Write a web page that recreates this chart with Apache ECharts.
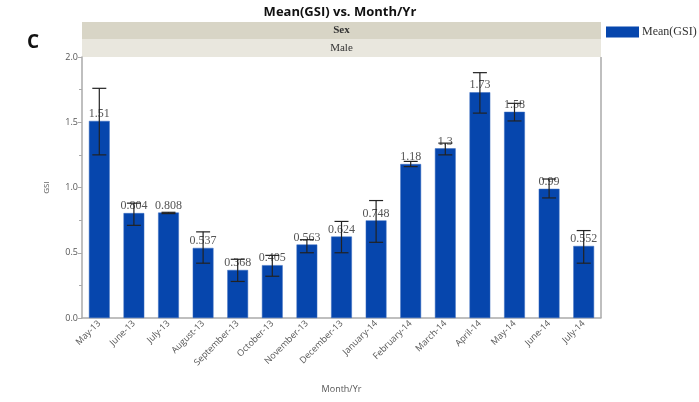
<!DOCTYPE html>
<html>
<head>
<meta charset="utf-8">
<script src="https://cdn.jsdelivr.net/npm/echarts@6/dist/echarts.min.js"></script>
<style>
  html, body { margin: 0; padding: 0; background: #fff; }
  #chart { width: 699px; height: 402px; }
</style>
</head>
<body>
<div id="chart"></div>
<script>
const months = ['May-13', 'June-13', 'July-13', 'August-13', 'September-13', 'October-13', 'November-13',
  'December-13', 'January-14', 'February-14', 'March-14', 'April-14', 'May-14', 'June-14', 'July-14']
const meanGsi = [1.51, 0.804, 0.808, 0.537, 0.368, 0.405, 0.563, 0.624, 0.748, 1.18, 1.3, 1.73, 1.58, 0.99, 0.552]
const errLow = [1.25, 0.71, 0.80, 0.42, 0.28, 0.32, 0.50, 0.50, 0.58, 1.16, 1.25, 1.57, 1.51, 0.92, 0.42]
const errHigh = [1.76, 0.88, 0.81, 0.66, 0.45, 0.48, 0.60, 0.74, 0.90, 1.20, 1.34, 1.88, 1.645, 1.065, 0.67]
const yTicks = [0, 0.5, 1.0, 1.5, 2.0]

const chart = echarts.init(document.getElementById('chart'))

const plotLeft = 82
const plotRight = 601
const plotTop = 57
const plotBottom = 318

const option = {
  animation: false,
  grid: {
    left: plotLeft,
    right: 699 - plotRight,
    top: plotTop,
    bottom: 402 - plotBottom
  },
  graphic: [
    {
      type: 'text',
      x: 340,
      y: 12,
      style: { text: 'Mean(GSI) vs. Month/Yr', font: 'bold 13px "Open Sans", sans-serif', fill: '#111', align: 'center', verticalAlign: 'middle' }
    },
    {
      type: 'text',
      left: 27,
      top: 33,
      style: { text: 'C', font: 'bold 19px "Open Sans", sans-serif', fill: '#111' }
    },
    {
      type: 'rect',
      shape: { x: plotLeft, y: 22, width: plotRight - plotLeft, height: 17 },
      style: { fill: '#d8d5c6' }
    },
    {
      type: 'rect',
      shape: { x: plotLeft, y: 39, width: plotRight - plotLeft, height: 18 },
      style: { fill: '#e9e7de' }
    },
    {
      type: 'text',
      x: (plotLeft + plotRight) / 2,
      y: 30.5,
      style: { text: 'Sex', font: 'bold 11px "Liberation Serif", serif', fill: '#333', align: 'center', verticalAlign: 'middle' }
    },
    {
      type: 'text',
      x: (plotLeft + plotRight) / 2,
      y: 48,
      style: { text: 'Male', font: '11px "Liberation Serif", serif', fill: '#333', align: 'center', verticalAlign: 'middle' }
    },
    {
      type: 'line',
      shape: { x1: plotRight, y1: plotTop, x2: plotRight, y2: plotBottom },
      style: { stroke: '#aaa', lineWidth: 1.5 }
    }
  ],
  legend: {
    left: 606,
    top: 26,
    padding: 0,
    icon: 'rect',
    itemWidth: 33,
    itemHeight: 11,
    itemGap: 4,
    itemStyle: { borderWidth: 0 },
    textStyle: { fontFamily: '"Liberation Serif", serif', fontSize: 12, color: '#333', padding: [0, 0, 0, -2] },
    data: ['Mean(GSI)']
  },
  xAxis: {
    type: 'category',
    data: months,
    name: 'Month/Yr',
    nameLocation: 'middle',
    nameGap: 67,
    nameTextStyle: { fontSize: 9, color: '#555', fontFamily: '"Open Sans", sans-serif' },
    axisLine: { lineStyle: { color: '#aaa', width: 1.5 } },
    axisTick: { show: false },
    axisLabel: {
      interval: 0,
      rotate: 45,
      fontSize: 9,
      color: '#555',
      fontFamily: '"Open Sans", sans-serif',
      margin: 4
    }
  },
  yAxis: {
    type: 'value',
    min: yTicks[0],
    max: yTicks[yTicks.length - 1],
    interval: 0.5,
    name: 'GSI',
    nameLocation: 'middle',
    nameGap: 31,
    nameRotate: 90,
    nameTextStyle: { fontSize: 8, color: '#555', fontFamily: '"Open Sans", sans-serif' },
    axisLine: { show: true, lineStyle: { color: '#aaa', width: 1.5 } },
    axisTick: { show: true, length: 4, lineStyle: { color: '#aaa' } },
    minorTick: { show: true, splitNumber: 2, length: 3, lineStyle: { color: '#aaa' } },
    splitLine: { show: false },
    axisLabel: {
      fontSize: 9,
      color: '#555',
      fontFamily: '"Open Sans", sans-serif',
      margin: 4,
      formatter: (v) => v.toFixed(1)
    }
  },
  series: [
    {
      name: 'Mean(GSI)',
      type: 'bar',
      data: meanGsi,
      barWidth: '60%',
      itemStyle: { color: '#0646ad', borderColor: '#3a6cc0', borderWidth: 0.5 },
      label: {
        show: true,
        position: 'top',
        distance: 1,
        fontFamily: '"Liberation Serif", serif',
        fontSize: 12,
        color: '#555',
        formatter: (p) => String(p.value)
      }
    },
    {
      name: 'error',
      type: 'custom',
      data: months.map((m, i) => [i, errLow[i], errHigh[i]]),
      z: 10,
      renderItem: (params, api) => {
        const x = api.value(0)
        const lo = api.coord([x, api.value(1)])
        const hi = api.coord([x, api.value(2)])
        const half = 7
        const style = { stroke: '#222', lineWidth: 1.2 }
        return {
          type: 'group',
          children: [
            { type: 'line', shape: { x1: lo[0], y1: lo[1], x2: hi[0], y2: hi[1] }, style },
            { type: 'line', shape: { x1: hi[0] - half, y1: hi[1], x2: hi[0] + half, y2: hi[1] }, style },
            { type: 'line', shape: { x1: lo[0] - half, y1: lo[1], x2: lo[0] + half, y2: lo[1] }, style }
          ]
        }
      }
    }
  ]
}

chart.setOption(option)
window.addEventListener('resize', () => chart.resize())
</script>
</body>
</html>
